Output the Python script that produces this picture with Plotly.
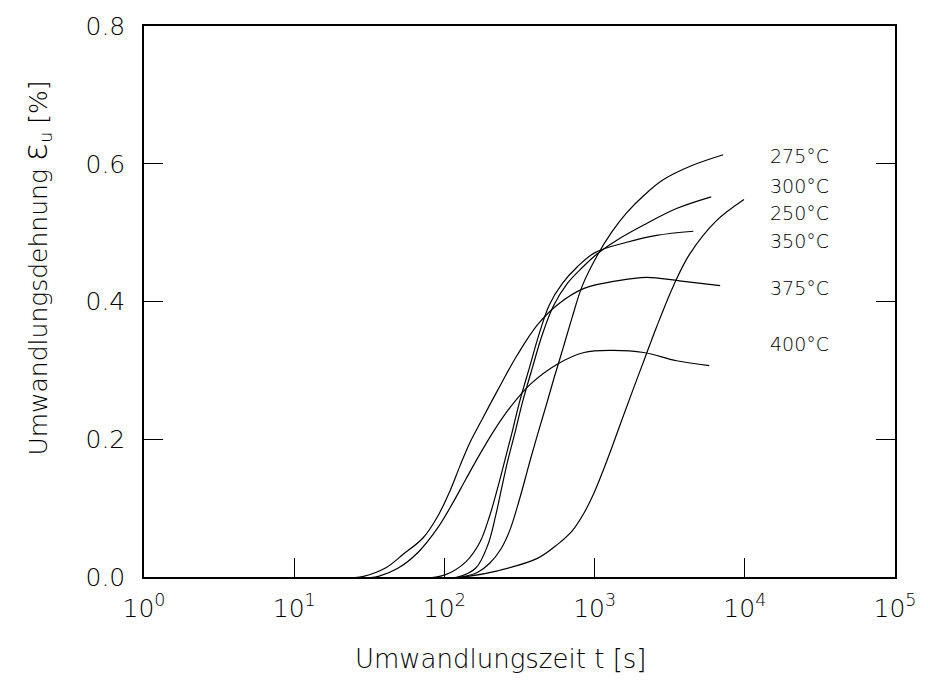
import plotly.graph_objects as go

# Transformation strain over time for isothermal holding temperatures
temps = ["275°C", "300°C", "250°C", "350°C", "375°C", "400°C"]

t_275 = [90.7, 128.8, 166.7, 200.3, 236.7, 271.6, 306.8, 341.5, 374.1, 422.5, 477.1, 538.8, 618.1,
         708.9, 825.4, 1037, 1303, 1638, 2154, 2877, 4408, 7178]
eps_275 = [-0.002, 0.0, 0.007, 0.020, 0.040, 0.067, 0.103, 0.139, 0.171, 0.211, 0.250, 0.290, 0.333,
           0.377, 0.422, 0.466, 0.501, 0.529, 0.555, 0.577, 0.597, 0.613]

t_300 = [81.5, 123.0, 161.8, 194.2, 219.4, 240.4, 263.4, 293.1, 331.1, 385.5, 448.7, 530.7, 656.7,
         825.4, 1037, 1406, 2122, 3508, 5975]
eps_300 = [-0.002, 0.0, 0.013, 0.046, 0.089, 0.129, 0.168, 0.207, 0.254, 0.304, 0.352, 0.393, 0.426,
           0.449, 0.469, 0.489, 0.511, 0.535, 0.552]

t_250 = [97.9, 143.2, 226.0, 415.9, 563.9, 709.2, 850.6, 991, 1137, 1303, 1518, 1795, 2154, 2586,
         3352, 4274, 6453, 9880]
eps_250 = [-0.002, 0.001, 0.009, 0.027, 0.047, 0.067, 0.093, 0.122, 0.154, 0.188, 0.228, 0.271, 0.317,
           0.363, 0.423, 0.468, 0.517, 0.548]

t_350 = [70.0, 100.9, 138.9, 171.9, 200.3, 226.0, 251.6, 280.0, 316.2, 368.3, 428.9, 499.3, 608.8,
         764.9, 1006, 1638, 2586, 4544]
eps_350 = [-0.002, 0.003, 0.022, 0.050, 0.089, 0.129, 0.168, 0.207, 0.254, 0.304, 0.354, 0.395, 0.426,
           0.450, 0.471, 0.486, 0.496, 0.502]

t_375 = [20.7, 28.9, 40.5, 53.2, 72.2, 90.7, 108.9, 126.8, 147.7, 177.3, 226.0, 306.9, 415.9, 563.9,
         850.6, 1406, 2222, 3672, 6855]
eps_375 = [-0.002, 0.001, 0.013, 0.033, 0.057, 0.089, 0.125, 0.161, 0.195, 0.228, 0.271, 0.323, 0.366,
           0.395, 0.419, 0.430, 0.435, 0.430, 0.423]

t_400 = [26.0, 36.4, 49.3, 66.9, 90.7, 114.0, 138.9, 171.9, 216.1, 275.7, 374.1, 563.9, 850.6, 1303,
         2122, 3508, 5800]
eps_400 = [-0.002, 0.001, 0.013, 0.036, 0.072, 0.108, 0.142, 0.178, 0.214, 0.247, 0.280, 0.309, 0.326,
           0.329, 0.326, 0.314, 0.307]

x_tickvals = [1, 10, 100, 1000, 10000, 100000]
x_ticktext = ["10<sup>0</sup>", "10<sup>1</sup>", "10<sup>2</sup>", "10<sup>3</sup>", "10<sup>4</sup>", "10<sup>5</sup>"]
y_tickvals = [0.0, 0.2, 0.4, 0.6, 0.8]
y_ticktext = ["0.0", "0.2", "0.4", "0.6", "0.8"]

series = [
    (t_275, eps_275), (t_300, eps_300), (t_250, eps_250),
    (t_350, eps_350), (t_375, eps_375), (t_400, eps_400),
]

FONT = "DejaVu Sans"
WEIGHT = 300
fig = go.Figure()
for (t, e), name in zip(series, temps):
    fig.add_trace(go.Scatter(
        x=t, y=e, mode="lines", name=name,
        line=dict(color="black", width=1.2, shape="spline", smoothing=1.0),
        showlegend=False, hoverinfo="skip",
    ))

# curve labels to the right of the line ends
label_pos = [0.611, 0.567, 0.529, 0.488, 0.419, 0.339]
for name, ly in zip(temps, label_pos):
    fig.add_annotation(
        x=0.8307, xref="paper", y=ly, yref="y", text=name, showarrow=False,
        xanchor="left", yanchor="middle",
        font=dict(family=FONT, size=19, color="black", weight=WEIGHT),
    )

# axis titles
fig.add_annotation(
    x=0.475, xref="paper", y=-0.148, yref="paper", yanchor="middle",
    text="Umwandlungszeit t [s]", showarrow=False,
    font=dict(family=FONT, size=26, color="black", weight=WEIGHT),
)
fig.add_annotation(
    x=-0.145, xref="paper", y=0.56, yref="paper", xanchor="center",
    text="Umwandlungsdehnung <span style='font-size:34px'>ε</span><sub>u</sub> [%]",
    textangle=-90, showarrow=False,
    font=dict(family=FONT, size=25, color="black", weight=WEIGHT),
)

fig.update_xaxes(
    type="log", range=[0, 5], tickvals=x_tickvals, ticktext=x_ticktext,
    ticks="inside", ticklen=19, tickwidth=1, tickcolor="black",
    showline=True, linecolor="black", linewidth=1.5, mirror=True,
    showgrid=False, zeroline=False, ticklabelstandoff=8,
    tickfont=dict(family=FONT, size=25, color="black", weight=WEIGHT),
)
fig.update_yaxes(
    range=[0, 0.8], tickvals=y_tickvals, ticktext=y_ticktext,
    ticks="inside", ticklen=19, tickwidth=1, tickcolor="black",
    showline=True, linecolor="black", linewidth=1.5, mirror="ticks",
    showgrid=False, zeroline=False, ticklabelstandoff=12,
    tickfont=dict(family=FONT, size=25, color="black", weight=WEIGHT),
)

fig.update_layout(
    width=928, height=686,
    margin=dict(l=144, r=28, t=19, b=109),
    paper_bgcolor="white", plot_bgcolor="white",
)

fig.write_html("out.html")
